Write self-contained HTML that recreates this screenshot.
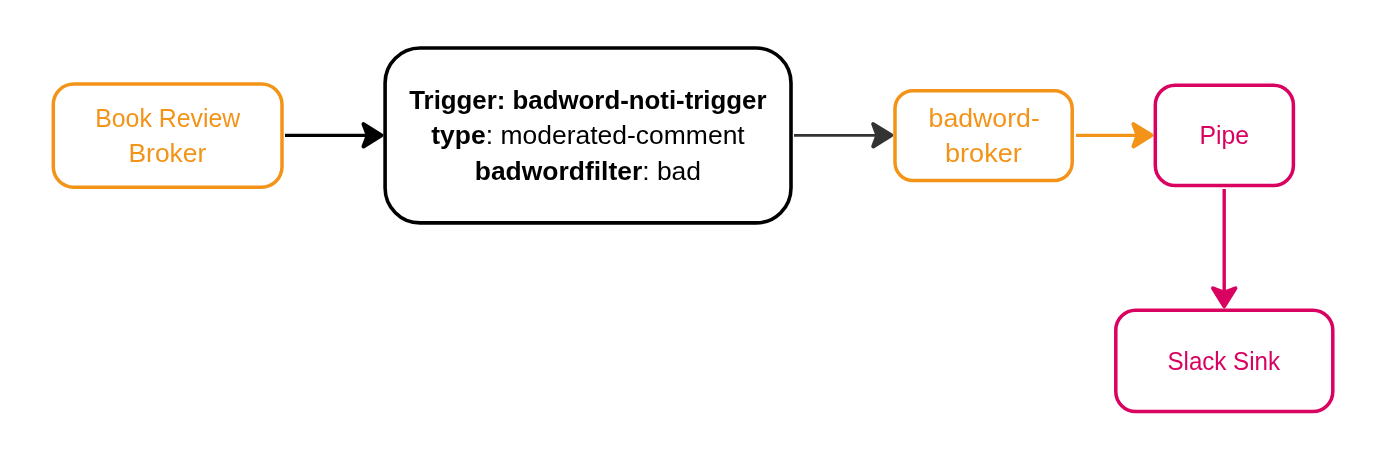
<!DOCTYPE html>
<html><head><meta charset="utf-8">
<style>
html,body{margin:0;padding:0;background:#fff;width:1375px;height:465px;overflow:hidden}
svg{display:block;will-change:transform}
text{font-family:"Liberation Sans",sans-serif;font-size:26px}
</style></head><body>
<svg width="1375" height="465" viewBox="0 0 1375 465">
<rect width="1375" height="465" fill="#fff"/>
<rect x="53.3" y="84.0" width="228.70" height="103.20" rx="20.5" ry="20.5" fill="none" stroke="#F39419" stroke-width="3.5"/>
<line x1="285" y1="135.35" x2="367.7" y2="135.35" stroke="#000" stroke-width="3.2"/>
<path d="M381.50,135.35 L363.50,124.15 L367.70,135.35 L363.50,146.55 Z" fill="#000" stroke="#000" stroke-width="4" stroke-linejoin="round"/>
<rect x="385.1" y="48.0" width="405.90" height="174.90" rx="35" ry="35" fill="none" stroke="#000" stroke-width="3.6"/>
<line x1="794" y1="135.3" x2="877.4000000000001" y2="135.3" stroke="#333" stroke-width="2.8"/>
<path d="M891.20,135.30 L873.20,124.10 L877.40,135.30 L873.20,146.50 Z" fill="#333" stroke="#333" stroke-width="4" stroke-linejoin="round"/>
<rect x="895.0" y="90.7" width="177.20" height="89.70" rx="17.9" ry="17.9" fill="none" stroke="#F39419" stroke-width="3.5"/>
<line x1="1076" y1="135.3" x2="1137.6000000000001" y2="135.3" stroke="#F39419" stroke-width="3.2"/>
<path d="M1151.40,135.30 L1133.40,124.10 L1137.60,135.30 L1133.40,146.50 Z" fill="#F39419" stroke="#F39419" stroke-width="4" stroke-linejoin="round"/>
<rect x="1155.3" y="85.2" width="138.10" height="100.40" rx="20" ry="20" fill="none" stroke="#D90261" stroke-width="3.5"/>
<line x1="1224.2" y1="189" x2="1224.2" y2="292.5" stroke="#D90261" stroke-width="3.4"/>
<path d="M1224.20,306.30 L1213.00,288.30 L1224.20,292.50 L1235.40,288.30 Z" fill="#D90261" stroke="#D90261" stroke-width="4" stroke-linejoin="round"/>
<rect x="1115.8" y="310.2" width="217.00" height="101.30" rx="20" ry="20" fill="none" stroke="#D90261" stroke-width="3.5"/>
<text transform="translate(167.69,126.9) scale(0.9567,1)" text-anchor="middle" fill="#F39419">Book Review</text>
<text transform="translate(167.38,162) scale(1.0162,1)" text-anchor="middle" fill="#F39419">Broker</text>
<text transform="translate(587.85,108.9) scale(0.9936,1)" text-anchor="middle" fill="#000" font-weight="bold">Trigger: badword-noti-trigger</text>
<text transform="translate(588.00,143.7) scale(1.0188,1)" text-anchor="middle" fill="#000"><tspan font-weight="bold">type</tspan>: moderated-comment</text>
<text transform="translate(587.90,179.9) scale(1.0173,1)" text-anchor="middle" fill="#000"><tspan font-weight="bold">badwordfilter</tspan>: bad</text>
<text transform="translate(984.20,127) scale(1.0264,1)" text-anchor="middle" fill="#F39419">badword-</text>
<text transform="translate(983.36,161.9) scale(1.0417,1)" text-anchor="middle" fill="#F39419">broker</text>
<text transform="translate(1224.27,144) scale(0.9531,1)" text-anchor="middle" fill="#D90261">Pipe</text>
<text transform="translate(1223.72,369.8) scale(0.9275,1)" text-anchor="middle" fill="#D90261">Slack Sink</text>
</svg>
</body></html>
